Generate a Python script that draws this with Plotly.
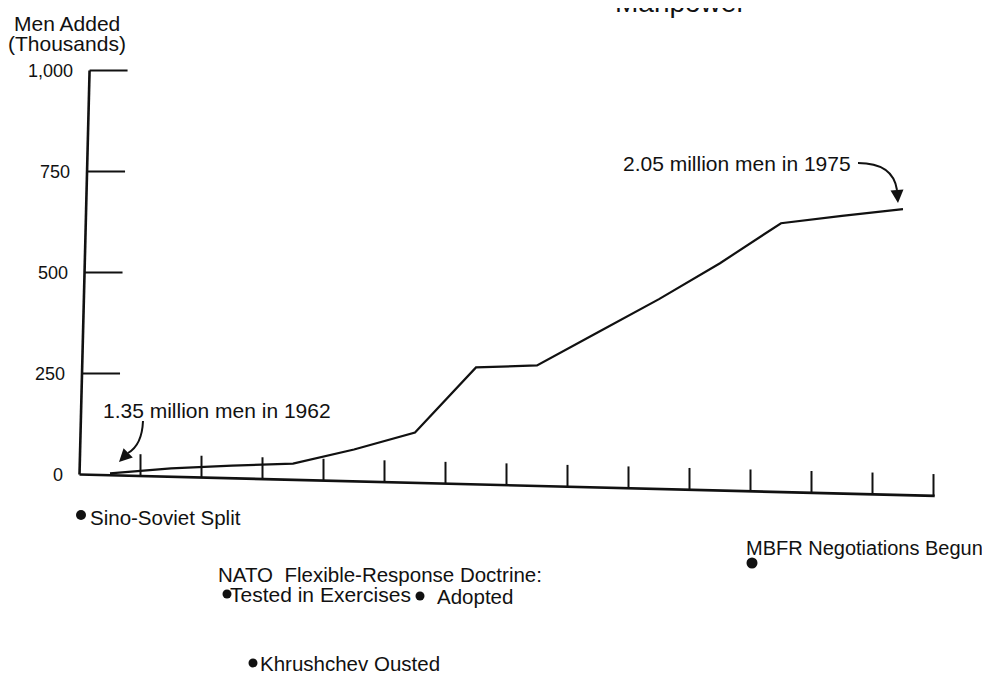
import plotly.graph_objects as go

# ---------------- data ----------------
years = [1962, 1963, 1964, 1965, 1966, 1967, 1968, 1969, 1970, 1971, 1972, 1973, 1974, 1975]
men_added = [3, 15, 22, 27, 62, 104, 265, 270, 352, 434, 523, 622, 640, 657]

y_tick_vals = [0, 250, 500, 750, 1000]
y_tick_text = ["0", "250", "500", "750", "1,000"]

x_tick_years = [1962.5, 1963.5, 1964.5, 1965.5, 1966.5, 1967.5, 1968.5,
                1969.5, 1970.5, 1971.5, 1972.5, 1973.5, 1974.5, 1975.5]

# the scanned page is slightly rotated: both axes are drawn a little askew
baseline_x = [1961.50, 1975.52]
baseline_y = [0, -53]
yaxis_x = [1961.50, 1961.665]
yaxis_y = [0, 1000]
x_tick_height = 54

event_labels = ["Sino-Soviet Split", "Tested in Exercises", "Adopted",
                "Khrushchev Ousted", "MBFR Negotiations Begun"]
nato_heading = "NATO\u00a0 Flexible-Response Doctrine:"
note_start = "1.35 million men in 1962"
note_end = "2.05 million men in 1975"
top_heading = "Manpower"

# ---------------- layout helpers (reference pixel -> axis / paper units) ----------------
OFF = 8                               # page body margin
W, H = 990 - OFF, 677 - OFF
PL, PR, PT, PB = 70, 950, 60, 500     # plot area in reference pixels
ML, MR, MT, MB = PL - OFF, W - (PR - OFF), PT - OFF, H - (PB - OFF)
PW, PH = PR - PL, PB - PT
YEAR_PX0, PX_PER_YEAR = 110.0, 61.0   # 1962 sits at x=110
ZERO_PY, PX_PER_UNIT = 474.5, 0.404


def X(px):
    return 1962 + (px - YEAR_PX0) / PX_PER_YEAR


def Y(py):
    return (ZERO_PY - py) / PX_PER_UNIT


def PXp(px):
    return (px - PL) / PW


def PYp(py):
    return (PB - py) / PH


def axis_px(v):
    # reference-pixel x of the (tilted) value axis at value v
    x_axis = yaxis_x[0] + (v - yaxis_y[0]) * (yaxis_x[1] - yaxis_x[0]) / (yaxis_y[1] - yaxis_y[0])
    return YEAR_PX0 + (x_axis - 1962) * PX_PER_YEAR


FONT = "Liberation Sans, Arial, Helvetica, sans-serif"
INK = "#111111"

fig = go.Figure()

# main series
fig.add_trace(go.Scatter(x=years, y=men_added, mode="lines",
                         line=dict(color=INK, width=2.2), hoverinfo="skip",
                         showlegend=False))

# slanted baseline and value axis
fig.add_trace(go.Scatter(x=baseline_x, y=baseline_y, mode="lines",
                         line=dict(color=INK, width=2.6), hoverinfo="skip",
                         showlegend=False))
fig.add_trace(go.Scatter(x=yaxis_x, y=yaxis_y, mode="lines",
                         line=dict(color=INK, width=2.6), hoverinfo="skip",
                         showlegend=False))

# year ticks standing on the slanted baseline
tx, ty = [], []
slope = (baseline_y[1] - baseline_y[0]) / (baseline_x[1] - baseline_x[0])
for t in x_tick_years:
    b = baseline_y[0] + slope * (t - baseline_x[0])
    tx += [t, t, None]
    ty += [b, b + x_tick_height, None]
fig.add_trace(go.Scatter(x=tx, y=ty, mode="lines",
                         line=dict(color=INK, width=2), hoverinfo="skip",
                         showlegend=False))

# value ticks (pointing into the plot) on the tilted axis
vx, vy = [], []
for v in y_tick_vals[1:]:
    a = axis_px(v)
    vx += [X(a), X(a + 38), None]
    vy += [v, v, None]
fig.add_trace(go.Scatter(x=vx, y=vy, mode="lines",
                         line=dict(color=INK, width=2), hoverinfo="skip",
                         showlegend=False))

# curved arrows
fig.add_shape(type="path", xref="x", yref="y",
              path=f"M {X(143)},{Y(421)} Q {X(142)},{Y(445)} {X(128)},{Y(453)}",
              line=dict(color=INK, width=2))
fig.add_shape(type="path", xref="x", yref="y",
              path=f"M {X(858)},{Y(163)} Q {X(893)},{Y(163)} {X(897)},{Y(190)}",
              line=dict(color=INK, width=2))

# event dots (reference pixel centre, diameter)
for cx, cy, d in [(81, 515, 10), (227, 594, 9), (420, 596, 9), (253, 663, 9), (752, 563, 11)]:
    fig.add_shape(type="circle", xref="paper", yref="paper",
                  xsizemode="pixel", ysizemode="pixel",
                  xanchor=PXp(cx), yanchor=PYp(cy),
                  x0=-d / 2, x1=d / 2, y0=-d / 2, y1=d / 2,
                  fillcolor=INK, line=dict(color=INK, width=0))

annos = []
annos.append(dict(x=X(119), y=Y(462), ax=9, ay=-9, text="", showarrow=True,
                  arrowhead=2, arrowsize=1.3, arrowwidth=2, arrowcolor=INK,
                  xref="x", yref="y"))
annos.append(dict(x=X(898), y=Y(203), ax=-1, ay=-13, text="", showarrow=True,
                  arrowhead=2, arrowsize=1.3, arrowwidth=2, arrowcolor=INK,
                  xref="x", yref="y"))

# value-axis tick labels
for v, s in zip(y_tick_vals, y_tick_text):
    annos.append(dict(x=PXp(axis_px(v) - 15), y=v, xref="paper", yref="y", text=s,
                      showarrow=False, xanchor="right", yanchor="middle",
                      font=dict(family=FONT, size=18, color=INK)))


def label(text, px, py, size=20.5, anchor="left"):
    annos.append(dict(x=PXp(px), y=PYp(py), xref="paper", yref="paper", text=text,
                      showarrow=False, xanchor=anchor, yanchor="middle",
                      font=dict(family=FONT, size=size, color=INK)))


label(note_start, 101, 410, 21)
label(note_end, 621, 163, 21)
label(event_labels[0], 88, 517)
label(nato_heading, 216, 574)
label(event_labels[1], 228, 594, 21)
label(event_labels[2], 435, 596)
label(event_labels[3], 258, 663)
label(event_labels[4], 744, 548, 20)

# axis title (two lines)
label("Men Added", 67, 23, 21, "center")
label("(Thousands)", 67, 43, 21, "center")
# partially visible heading at the top edge of the page
label(top_heading, 680, 3, 28, "center")

fig.update_layout(
    width=W, height=H,
    margin=dict(l=ML, r=MR, t=MT, b=MB),
    paper_bgcolor="white", plot_bgcolor="white",
    showlegend=False,
    annotations=annos,
    xaxis=dict(range=[X(PL), X(PR)], visible=False),
    yaxis=dict(range=[Y(PB), Y(PT)], visible=False),
)

fig.write_html("out.html")
